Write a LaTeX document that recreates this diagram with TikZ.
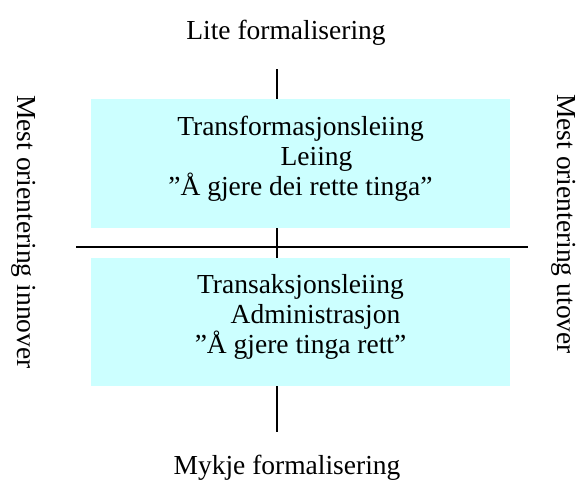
\documentclass[tikz,border=0pt]{standalone}
\usepackage{fontspec}
\setmainfont{Liberation Serif}
\definecolor{boxcyan}{RGB}{204,255,255}
\begin{document}
\begin{tikzpicture}[x=1pt,y=-1pt,
  lbl/.style={font=\fontsize{27.5}{30}\selectfont, inner sep=0pt},
  quad/.style={fill=boxcyan, draw=none, minimum width=419pt, inner sep=0pt},
  quadtext/.style={align=center, inner sep=0pt, font=\fontsize{27.5}{30}\selectfont},
  axis/.style={line width=1.3pt, black}]
\useasboundingbox (0,0) rectangle (579,480);
\node[quad, minimum height=129pt] (top) at (300.5,163.5) {};
\node[quad, minimum height=128pt] (bot) at (300.5,322) {};
\node[quadtext] (toptext) at ([yshift=5pt]top.center)
  {Transformasjonsleiing\\\hspace*{32pt}Leiing\\"Å gjere dei rette tinga"};
\node[quadtext] (bottext) at ([yshift=5pt]bot.center)
  {Transaksjonsleiing\\\hspace*{30pt}Administrasjon\\"Å gjere tinga rett"};
\node[lbl, anchor=base] (ttl) at (286,39) {Lite formalisering};
\node[lbl, anchor=base] (btl) at (287,474) {Mykje formalisering};
\node[lbl, anchor=base west, rotate=-90] (lt) at (17,95) {Mest orientering innover};
\node[lbl, anchor=base west, rotate=-90] (rt) at (557,94) {Mest orientering utover};
\coordinate (t1) at (277,69);
\coordinate (b1) at (277,432);
\coordinate (hl) at (76,247);
\coordinate (hr) at (528,247);
\draw[axis] (t1) -- (t1 |- top.north);
\draw[axis] (top.south -| t1) -- (bot.north -| t1);
\draw[axis] (bot.south -| t1) -- (b1);
\draw[axis] (hl) -- (hr);
\end{tikzpicture}
\end{document}
